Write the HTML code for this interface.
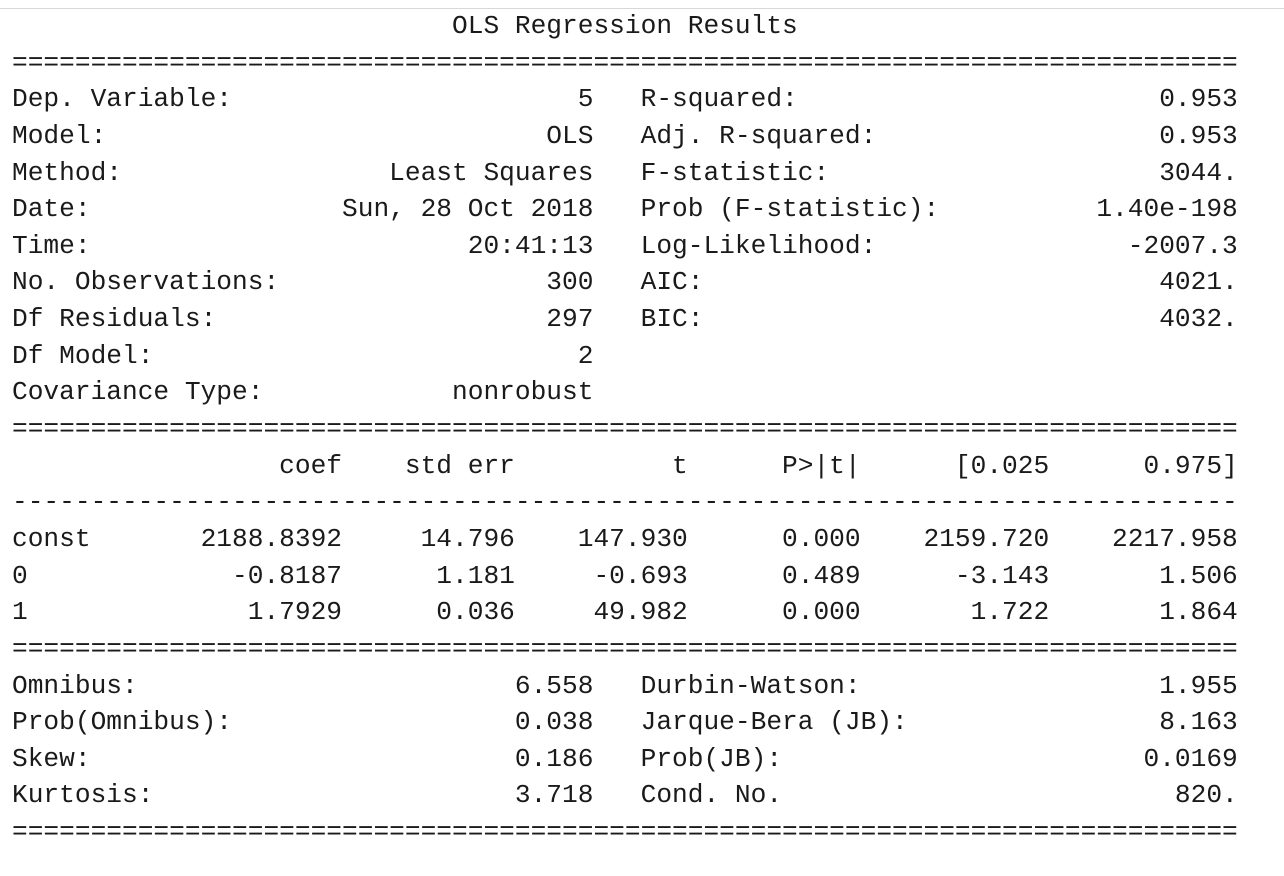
<!DOCTYPE html>
<html>
<head>
<meta charset="utf-8">
<style>
html,body{margin:0;padding:0;background:#fff;width:1284px;height:876px;overflow:hidden;}
#topline{position:absolute;left:0;top:8px;width:1284px;height:1px;background:#d8d8d8;}
pre{position:absolute;left:12px;top:8px;margin:0;font-family:"Liberation Mono","Courier New",monospace;font-size:26.2px;line-height:36.64px;color:#1a1a1a;letter-spacing:0;}
</style>
</head>
<body>
<div id="topline"></div>
<pre><span>                            OLS Regression Results                            </span>
==============================================================================
<span>Dep. Variable:                      5   R-squared:                       0.953
Model:                            OLS   Adj. R-squared:                  0.953
Method:                 Least Squares   F-statistic:                     3044.
Date:                Sun, 28 Oct 2018   Prob (F-statistic):          1.40e-198
Time:                        20:41:13   Log-Likelihood:                -2007.3
No. Observations:                 300   AIC:                             4021.
Df Residuals:                     297   BIC:                             4032.
Df Model:                           2                                         
Covariance Type:            nonrobust                                         </span>
==============================================================================
<span>                 coef    std err          t      P>|t|      [0.025      0.975]</span>
------------------------------------------------------------------------------
<span>const       2188.8392     14.796    147.930      0.000    2159.720    2217.958
0             -0.8187      1.181     -0.693      0.489      -3.143       1.506
1              1.7929      0.036     49.982      0.000       1.722       1.864</span>
==============================================================================
<span>Omnibus:                        6.558   Durbin-Watson:                   1.955
Prob(Omnibus):                  0.038   Jarque-Bera (JB):                8.163
Skew:                           0.186   Prob(JB):                       0.0169
Kurtosis:                       3.718   Cond. No.                         820.</span>
==============================================================================</pre>
</body>
</html>
